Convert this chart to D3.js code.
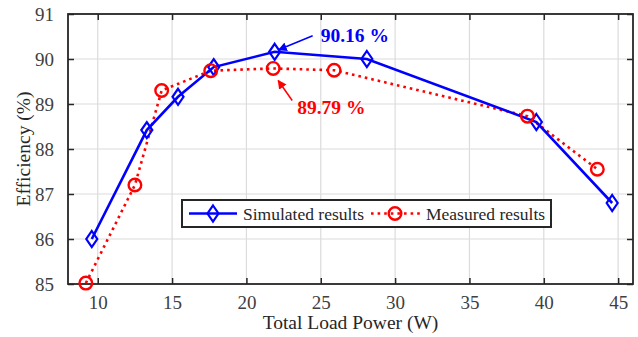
<!DOCTYPE html>
<html>
<head>
<meta charset="utf-8">
<script src="https://cdn.jsdelivr.net/npm/d3@7"></script>
<style>
  body { margin: 0; background: #fff; }
</style>
</head>
<body>
<svg class="chart"></svg>
<script>
// values
var simPower = [9.6, 13.3, 15.4, 17.8, 21.9, 28.1, 39.5, 44.6]
var simEff   = [86.0, 88.42, 89.16, 89.82, 90.16, 90.0, 88.6, 86.8]

var measPower = [9.2, 12.5, 14.3, 17.6, 21.8, 25.9, 38.9, 43.6]
var measEff   = [85.02, 87.2, 89.3, 89.74, 89.79, 89.75, 88.73, 87.55]

var xTicks = [10, 15, 20, 25, 30, 35, 40, 45]
var yTicks = [85, 86, 87, 88, 89, 90, 91]

var seriesNames = ['Simulated results', 'Measured results']

var FONT = '"Liberation Serif", "Times New Roman", Times, serif'

var margin = {left: 68, right: 5, top: 14, bottom: 53}
var W = 638, H = 337
var w = W - margin.left - margin.right,
    h = H - margin.top - margin.bottom;

var svg = d3.select('.chart')
    .attr('width', W)
    .attr('height', H)
    .attr('font-family', FONT)

var g = svg.append('g')
    .attr('transform', 'translate(' + margin.left + ',' + margin.top + ')')

var x = d3.scaleLinear().domain([8, 46]).range([0, w])
var y = d3.scaleLinear().domain([85, 91]).range([h, 0])

// grid
g.append('g').selectAll('line').data(xTicks).enter().append('line')
    .attr('x1', function(d) { return x(d) }).attr('x2', function(d) { return x(d) })
    .attr('y1', 0).attr('y2', h)
    .attr('stroke', '#dcdcdc').attr('stroke-width', 1.2)
g.append('g').selectAll('line').data(yTicks).enter().append('line')
    .attr('y1', function(d) { return y(d) }).attr('y2', function(d) { return y(d) })
    .attr('x1', 0).attr('x2', w)
    .attr('stroke', '#dcdcdc').attr('stroke-width', 1.2)

// axes, ticks pointing in, on all four sides
function styleAxis(sel) {
  sel.attr('font-family', FONT)
  sel.select('.domain').remove()
  sel.selectAll('line').attr('stroke', '#262626').attr('stroke-width', 1.5)
  sel.selectAll('text').attr('fill', '#404040')
      .style('font-family', FONT).style('font-size', '19px')
}

var fmt = d3.format('d')

g.append('g').attr('transform', 'translate(0,' + h + ')')
    .call(d3.axisBottom(x).tickValues(xTicks).tickFormat(fmt).tickSizeInner(-6).tickPadding(12))
    .call(styleAxis)
g.append('g')
    .call(d3.axisTop(x).tickValues(xTicks).tickSizeInner(-6).tickFormat(''))
    .call(styleAxis)
g.append('g')
    .call(d3.axisLeft(y).tickValues(yTicks).tickFormat(fmt).tickSizeInner(-6).tickPadding(14))
    .call(styleAxis)
g.append('g').attr('transform', 'translate(' + w + ',0)')
    .call(d3.axisRight(y).tickValues(yTicks).tickSizeInner(-6).tickFormat(''))
    .call(styleAxis)

g.append('rect')
    .attr('width', w).attr('height', h)
    .attr('fill', 'none').attr('stroke', '#262626').attr('stroke-width', 1.8)

// axis titles
g.append('text')
    .attr('x', w / 2).attr('y', h + 45)
    .attr('text-anchor', 'middle')
    .style('font-family', FONT).style('font-size', '19.5px').attr('fill', '#262626')
    .text('Total Load Power (W)')
g.append('text')
    .attr('transform', 'translate(' + (-38) + ',' + (h / 2) + ') rotate(-90)')
    .attr('text-anchor', 'middle')
    .style('font-family', FONT).style('font-size', '19.5px').attr('fill', '#262626')
    .text('Efficiency (%)')

var sim = simPower.map(function(p, i) { return [p, simEff[i]] })
var meas = measPower.map(function(p, i) { return [p, measEff[i]] })

var line = d3.line()
    .x(function(d) { return x(d[0]) })
    .y(function(d) { return y(d[1]) })

g.append('path').datum(meas)
    .attr('d', line)
    .attr('fill', 'none').attr('stroke', '#ff0000')
    .attr('stroke-width', 2.6).attr('stroke-dasharray', '2.6,4')
g.append('path').datum(sim)
    .attr('d', line)
    .attr('fill', 'none').attr('stroke', '#0000ff').attr('stroke-width', 2.6)

function diamond(sel) {
  sel.append('path')
      .attr('d', 'M0,-8L5.5,0L0,8L-5.5,0Z')
      .attr('fill', 'none').attr('stroke', '#0000ff').attr('stroke-width', 2.2)
}
function ring(sel) {
  sel.append('circle')
      .attr('r', 6.3)
      .attr('fill', 'none').attr('stroke', '#ff0000').attr('stroke-width', 2.4)
}

g.selectAll('.sim').data(sim).enter().append('g')
    .attr('class', 'sim')
    .attr('transform', function(d) { return 'translate(' + x(d[0]) + ',' + y(d[1]) + ')' })
    .call(diamond)
g.selectAll('.meas').data(meas).enter().append('g')
    .attr('class', 'meas')
    .attr('transform', function(d) { return 'translate(' + x(d[0]) + ',' + y(d[1]) + ')' })
    .call(ring)

// peak annotations
var defs = svg.append('defs')
function arrowHead(id, color) {
  defs.append('marker')
      .attr('id', id)
      .attr('viewBox', '0 0 10 10')
      .attr('refX', 9).attr('refY', 5)
      .attr('markerWidth', 9).attr('markerHeight', 9)
      .attr('markerUnits', 'userSpaceOnUse')
      .attr('orient', 'auto')
    .append('path')
      .attr('d', 'M0,0L10,5L0,10Z')
      .attr('fill', color)
}
arrowHead('ab', '#0000ff')
arrowHead('ar', '#ff0000')

var simPeak = sim[4], measPeak = meas[4]

g.append('line')
    .attr('x1', x(simPeak[0]) + 38).attr('y1', y(simPeak[1]) - 16)
    .attr('x2', x(simPeak[0]) + 4).attr('y2', y(simPeak[1]) - 2)
    .attr('stroke', '#0000ff').attr('stroke-width', 1.5)
    .attr('marker-end', 'url(#ab)')
g.append('text')
    .attr('x', x(simPeak[0]) + 46).attr('y', y(simPeak[1]) - 10)
    .style('font-family', FONT).style('font-size', '19.5px').style('font-weight', 'bold')
    .attr('fill', '#0000ff')
    .text(simPeak[1].toFixed(2) + ' %')

g.append('line')
    .attr('x1', x(measPeak[0]) + 19).attr('y1', y(measPeak[1]) + 32)
    .attr('x2', x(measPeak[0]) + 5).attr('y2', y(measPeak[1]) + 12)
    .attr('stroke', '#ff0000').attr('stroke-width', 1.5)
    .attr('marker-end', 'url(#ar)')
g.append('text')
    .attr('x', x(measPeak[0]) + 24).attr('y', y(measPeak[1]) + 46)
    .style('font-family', FONT).style('font-size', '19.5px').style('font-weight', 'bold')
    .attr('fill', '#ff0000')
    .text(measPeak[1].toFixed(2) + ' %')

// legend
var lg = svg.append('g').attr('transform', 'translate(182,200)')
lg.append('rect')
    .attr('width', 369).attr('height', 27)
    .attr('fill', '#fff').attr('stroke', '#262626').attr('stroke-width', 2)

var ly = 13.5
var l1 = lg.append('g')
l1.append('line').attr('x1', 7).attr('x2', 55).attr('y1', ly).attr('y2', ly)
    .attr('stroke', '#0000ff').attr('stroke-width', 2.6)
l1.append('g').attr('transform', 'translate(31,' + ly + ')').call(diamond)
l1.append('text').attr('x', 61).attr('y', ly + 6)
    .style('font-family', FONT).style('font-size', '17.5px').attr('fill', '#262626')
    .text(seriesNames[0])

var l2 = lg.append('g')
l2.append('line').attr('x1', 189).attr('x2', 240).attr('y1', ly).attr('y2', ly)
    .attr('stroke', '#ff0000').attr('stroke-width', 2.6).attr('stroke-dasharray', '2.6,4')
l2.append('g').attr('transform', 'translate(213,' + ly + ')').call(ring)
l2.append('text').attr('x', 244).attr('y', ly + 6)
    .style('font-family', FONT).style('font-size', '17.5px').attr('fill', '#262626')
    .text(seriesNames[1])
</script>
</body>
</html>
